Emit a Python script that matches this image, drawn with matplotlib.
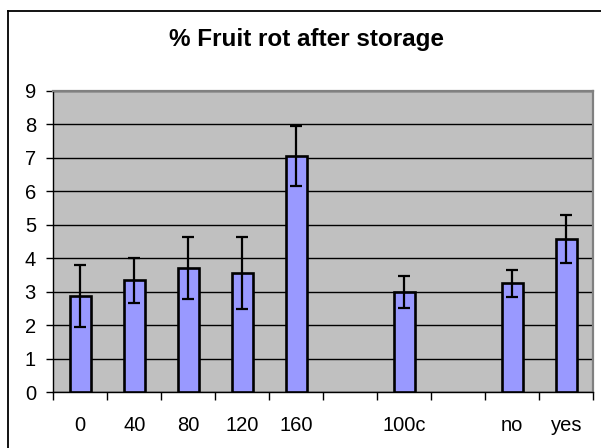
import numpy as np
import matplotlib
matplotlib.use("Agg")
import matplotlib.pyplot as plt
from matplotlib.lines import Line2D

plt.rcParams['font.family'] = ['Liberation Sans', 'DejaVu Sans']

categories = ['0', '40', '80', '120', '160', '', '100c', '', 'no', 'yes']
values = [2.87, 3.34, 3.71, 3.56, 7.05, np.nan, 2.98, np.nan, 3.25, 4.57]
errors = [0.93, 0.67, 0.93, 1.07, 0.90, np.nan, 0.48, np.nan, 0.40, 0.71]
title = '% Fruit rot after storage'

W, H = 601, 448
fig = plt.figure(figsize=(W / 100, H / 100), dpi=100)
fig.patch.set_facecolor('white')

left, right, top, bottom = 53.3, 593.3, 90.7, 392.0
ax = fig.add_axes([left / W, 1 - bottom / H, (right - left) / W, (bottom - top) / H])
ax.set_facecolor('#C0C0C0')

x = np.arange(len(categories))
vals = np.array(values, dtype=float)
errs = np.array(errors, dtype=float)
mask = ~np.isnan(vals)

ax.bar(x[mask], vals[mask], width=0.4, color='#9999FF', edgecolor='black',
       linewidth=1.9, zorder=3)
ax.errorbar(x[mask], vals[mask], yerr=errs[mask], fmt='none', ecolor='black',
            elinewidth=1.6, capsize=4.5, capthick=1.6, zorder=4)

ax.set_xlim(-0.5, len(categories) - 0.5)
ax.set_ylim(0, 9)
ax.set_yticks(range(0, 10))
ax.yaxis.grid(True, color='black', linewidth=1.0, zorder=1)
ax.set_axisbelow(True)

ax.set_xticks(x)
ax.set_xticklabels(categories)
ax.set_xticks(np.arange(-0.5, len(categories), 1.0), minor=True)
ax.tick_params(axis='x', which='major', length=0, pad=17.5, labelsize=14.5)
ax.tick_params(axis='x', which='minor', length=6, width=1.0, direction='out', color='black')
ax.tick_params(axis='y', length=5, width=1.0, direction='out', pad=7.5, labelsize=14.5)

for s in ['left', 'bottom']:
    ax.spines[s].set_color('black')
    ax.spines[s].set_linewidth(1.0)
for s in ['top', 'right']:
    ax.spines[s].set_color('#808080')
    ax.spines[s].set_linewidth(1.6)

fig.text(306.5 / W, 1 - 45.7 / H, title, ha='center', va='baseline',
         fontsize=17.5, fontweight='bold')

# chart outer border (left and top visible)
fig.add_artist(Line2D([8.3 / W, 8.3 / W], [1 - 10.7 / H, 0], color='black', linewidth=1.3))
fig.add_artist(Line2D([8.3 / W, 1], [1 - 10.7 / H, 1 - 10.7 / H], color='black', linewidth=1.3))

fig.savefig('out.png', dpi=100)
